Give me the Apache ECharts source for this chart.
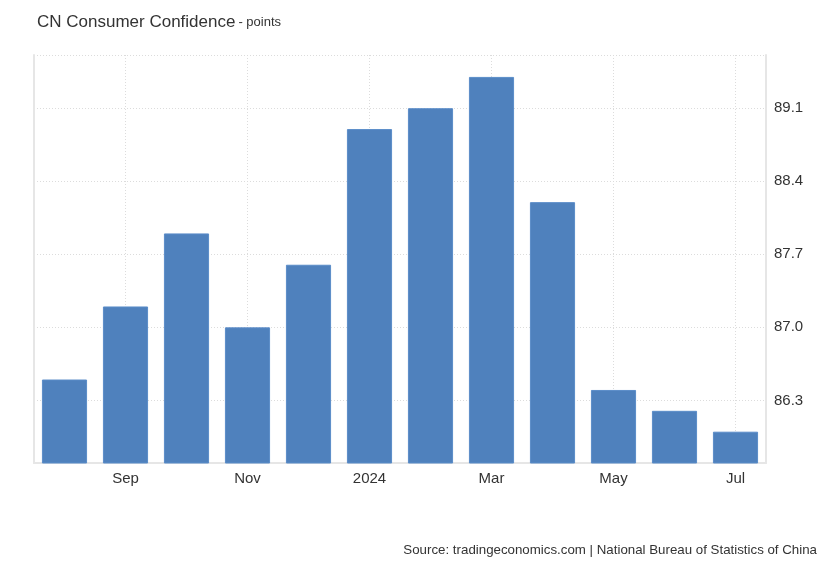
<!DOCTYPE html>
<html>
<head>
<meta charset="utf-8">
<script src="https://cdn.jsdelivr.net/npm/echarts@6/dist/echarts.min.js"></script>
<style>
html,body{margin:0;padding:0;background:#fff;}
#chart{width:830px;height:567px;}
</style>
</head>
<body>
<div id="chart"></div>
<script>
const categories = ['Aug','Sep','Oct','Nov','Dec','2024','Feb','Mar','Apr','May','Jun','Jul'];
const values = [86.5, 87.2, 87.9, 87.0, 87.6, 88.9, 89.1, 89.4, 88.2, 86.4, 86.2, 86.0];
const yTicks = [86.3, 87.0, 87.7, 88.4, 89.1];
const yMin = 85.7;
const yMax = 89.61;
const xGridPositions = [1, 3, 5, 7, 9, 11];

const font = '"Liberation Sans", Arial, sans-serif';
const chart = echarts.init(document.getElementById('chart'));
chart.setOption({
  animation: false,
  backgroundColor: '#fff',
  title: {
    text: 'CN Consumer Confidence{s|- points}',
    left: 32, top: 9,
    textStyle: {
      fontFamily: font, fontSize: 17, fontWeight: 'normal', color: '#333',
      rich: { s: { fontFamily: font, fontSize: 13, color: '#333', padding: [0, 0, 0, 3] } }
    }
  },
  graphic: [{
    type: 'text', right: 13, top: 544,
    style: { text: 'Source: tradingeconomics.com | National Bureau of Statistics of China', font: '13.3px ' + font, fill: '#333' }
  }],
  grid: { left: 34, right: 64, top: 55, bottom: 104 },
  xAxis: [{
    type: 'category',
    data: categories,
    axisLine: { show: true, onZero: false, lineStyle: { color: '#e6e6e6', width: 2 } },
    axisTick: { show: false },
    axisLabel: {
      interval: (i) => i % 2 === 1,
      color: '#333', fontSize: 15, fontFamily: font, margin: 8
    },
    splitLine: { show: false }
  }, {
    type: 'value',
    min: -0.5, max: 11.5,
    position: 'bottom',
    axisLine: { show: false, onZero: false },
    axisLabel: { show: false },
    axisTick: { show: false, customValues: xGridPositions },
    splitLine: { show: true, lineStyle: { color: '#dcdcdc', type: [1, 2], width: 1 } }
  }],
  yAxis: [{
    type: 'value',
    position: 'right',
    min: yMin, max: yMax,
    axisLine: { show: true, onZero: false, lineStyle: { color: '#e6e6e6', width: 2 } },
    axisTick: { show: false, customValues: yTicks.concat([yMax]) },
    axisLabel: {
      customValues: yTicks,
      formatter: (v) => v.toFixed(1),
      color: '#333', fontSize: 15, fontFamily: font, margin: 8
    },
    splitLine: { show: true, lineStyle: { color: '#dcdcdc', type: [1, 2], width: 1 } }
  }, {
    type: 'value',
    position: 'left',
    min: yMin, max: yMax,
    axisLine: { show: true, onZero: false, lineStyle: { color: '#e6e6e6', width: 2 } },
    axisTick: { show: false },
    axisLabel: { show: false },
    splitLine: { show: false }
  }],
  series: [{
    type: 'bar',
    xAxisIndex: 0,
    yAxisIndex: 0,
    data: values,
    barWidth: '74%',
    itemStyle: { color: '#4f81bd', borderColor: '#5a8cc8', borderWidth: 1 }
  }]
});
</script>
</body>
</html>
